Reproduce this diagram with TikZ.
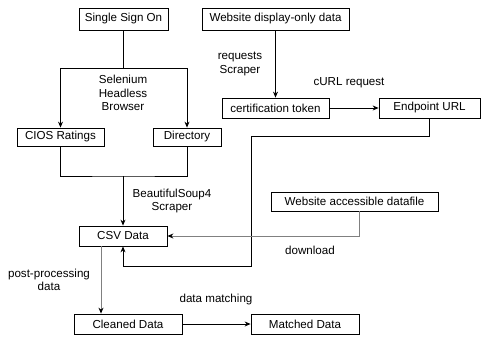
\documentclass[tikz,border=0pt]{standalone}
\usepackage{fontspec}
\setmainfont{Liberation Sans}
\usetikzlibrary{arrows.meta}
\definecolor{linegray}{gray}{0.5}

\begin{document}
\begin{tikzpicture}[x=1pt,y=-1pt,line width=0.8pt,
        font=\fontsize{11.6}{13.6}\selectfont,
        >={Stealth[length=6pt,width=5pt]},
        box/.style={draw,inner sep=0pt,minimum height=20pt},
        lbl/.style={align=center,inner sep=0pt},
        grayline/.style={linegray,line width=1pt,-{Stealth[length=6pt,width=5pt,black]}}]
        \useasboundingbox (0,0) rectangle (481,339);
        % boxes
        \node[box,minimum width=89pt,minimum height=22pt] (sso) at (123.5,19) {Single Sign On};
        \node[box,minimum width=147pt,minimum height=22pt] (wdod) at (275.5,19) {Website display-only data};
        \node[box,minimum width=87pt,minimum height=18pt] (cios) at (60.5,137) {CIOS Ratings};
        \node[box,minimum width=68pt,minimum height=18pt] (dir) at (187,137) {Directory};
        \node[box,minimum width=107pt] (cert) at (275.5,108) {certification token};
        \node[box,minimum width=101pt] (endp) at (429.5,108) {Endpoint URL};
        \node[box,minimum width=167pt,minimum height=19pt] (wadf) at (354.5,201.5) {Website accessible datafile};
        \node[box,minimum width=88pt] (csv) at (123,236) {CSV Data};
        \node[box,minimum width=108pt] (clean) at (128,324) {Cleaned Data};
        \node[box,minimum width=108pt] (match) at (305,324) {Matched Data};
        % labels
        \node[lbl] (selen) at (123,93) {Selenium\\Headless\\Browser};
        \node[lbl] (bs4) at (172,201) {BeautifulSoup4\\Scraper};
        \node[lbl] (reqs) at (240,64) {requests\\Scraper};
        \node[lbl] (curl) at (349,83) {cURL request};
        \node[lbl] (dl) at (310,250) {download};
        \node[lbl] (post) at (49,280) {post-processing\\data};
        \node[lbl] (dm) at (216,299) {data matching};
        % connectors
        \coordinate (j1) at (123.5,68);
        \coordinate (j2) at (123,176);
        \coordinate (e1) at (251,136);
        \coordinate (e2) at (251,266);
        \draw (sso) -- (j1);
        \draw[->] (j1) -| (cios);
        \draw[->] (j1) -| (dir);
        \draw (cios.south) |- (j2) -| (dir.south);
        \draw[->] (j2) -- (csv);
        \draw[->] (wdod.south -| cert.north) -- (cert);
        \draw[->] (cert) -- (endp);
        \draw[->] (endp.south) |- (e1) -- (e2) -| (csv.south);
        \draw[grayline] ([xshift=4.5pt]wadf.south) |- (csv.east);
        \draw[grayline] ([xshift=-22pt]csv.south) -- ([xshift=-22pt]csv.south |- clean.north);
        \draw[->] (clean) -- (match);
    \end{tikzpicture}
\end{document}
